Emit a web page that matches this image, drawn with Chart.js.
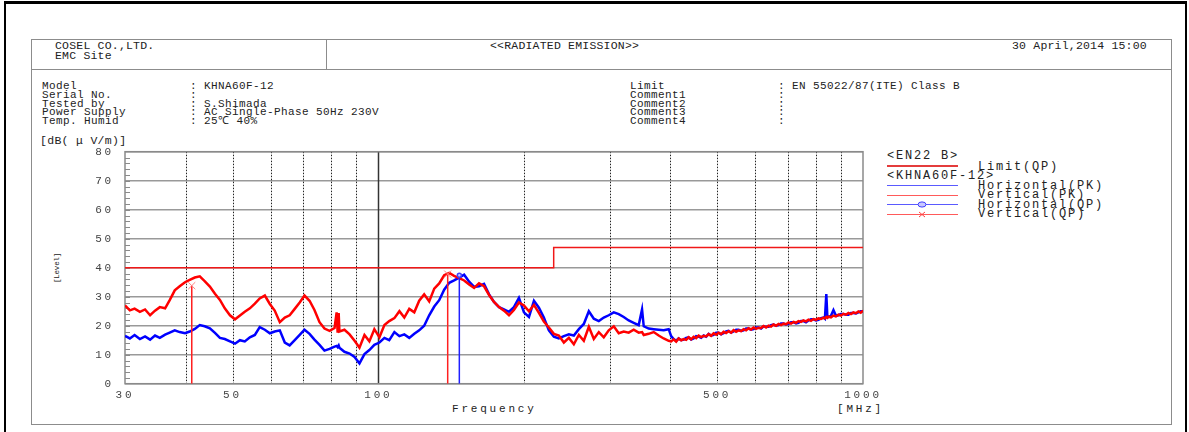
<!DOCTYPE html>
<html>
<head>
<meta charset="UTF-8">
<title>Radiated Emission</title>
<script src="https://cdn.jsdelivr.net/npm/chart.js"></script>
<style>
  body { margin: 0; background: #fff; }
  #page { position: relative; width: 1189px; height: 432px; overflow: hidden;
          font-family: "Liberation Mono", monospace; color: #222; }
  .t { position: absolute; white-space: pre; font-size: 11.5px; line-height: 12px; letter-spacing: 0.2px; }
  .blk { position: absolute; white-space: pre; font-size: 11px; line-height: 8.8px; letter-spacing: 0.4px; }
  .lg { position: absolute; white-space: pre; font-size: 12px; line-height: 12px; letter-spacing: 1.8px; }
  .ln { position: absolute; height: 0; }
  #outer { position: absolute; left: 4px; top: 1px; width: 1179px; height: 470px;
           border-top: 3px solid #000; border-left: 2px solid #000; border-right: 2px solid #000; }
  #inner { position: absolute; left: 31px; top: 39px; width: 1139px; height: 384px; border: 1.5px solid #8c8c8c; }
  #c { position: absolute; left: 0; top: 130px; }
</style>
</head>
<body>
<div id="page">
  <div id="outer"></div>
  <div id="inner"></div>
  <div class="ln" style="left:31px;top:69px;width:1141px;border-top:1.5px solid #8c8c8c"></div>
  <div style="position:absolute;left:326px;top:39px;width:0;height:31px;border-left:1.5px solid #8c8c8c"></div>

  <div class="t" style="left:55px;top:40px">COSEL CO.,LTD.</div>
  <div class="t" style="left:55px;top:50px">EMC Site</div>
  <div class="t" style="left:490px;top:40px">&lt;&lt;RADIATED EMISSION&gt;&gt;</div>
  <div class="t" style="left:1012px;top:40px">30 April,2014 15:00</div>

  <div class="blk" style="left:42px;top:82px">Model
Serial No.
Tested by
Power Supply
Temp. Humid</div>
  <div class="blk" style="left:190px;top:82px">: KHNA60F-12
:
: S.Shimada
: AC Single-Phase 50Hz 230V
: 25&#8451; 40%</div>
  <div class="blk" style="left:630px;top:82px">Limit
Comment1
Comment2
Comment3
Comment4</div>
  <div class="blk" style="left:778px;top:82px">: EN 55022/87(ITE) Class B
:
:
:
:</div>

  <div class="t" style="left:40px;top:135px;letter-spacing:0.3px">[dB( &#956; V/m)]</div>
  <div class="t" style="left:57px;top:268px;font-size:7.5px;line-height:8px;letter-spacing:-0.2px;transform:translate(-50%,-50%) rotate(-90deg)">[Level]</div>
  <div class="t" style="left:452px;top:403px;font-size:11px;letter-spacing:2.8px">Frequency</div>
  <div class="t" style="left:837px;top:403px;font-size:11px;letter-spacing:2.8px">[MHz]</div>

  <div class="lg" style="left:887px;top:150px">&lt;EN22 B&gt;</div>
  <div class="ln" style="left:887px;top:165px;width:71px;border-top:2.5px solid #e43c3c"></div>
  <div class="lg" style="left:978px;top:161px">Limit(QP)</div>
  <div class="lg" style="left:887px;top:170px">&lt;KHNA60F-12&gt;</div>
  <div class="ln" style="left:887px;top:185px;width:71px;border-top:1px solid #5a5aff"></div>
  <div class="lg" style="left:978px;top:180px">Horizontal(PK)</div>
  <div class="ln" style="left:887px;top:195px;width:71px;border-top:1px solid #ff5a5a"></div>
  <div class="lg" style="left:978px;top:189px">Vertical(PK)</div>
  <div class="ln" style="left:887px;top:204px;width:71px;border-top:1px solid #5a5aff"></div>
  <svg style="position:absolute;left:917px;top:201px" width="10" height="7"><ellipse cx="5" cy="3.5" rx="4" ry="2.6" fill="#c8c8ff" stroke="#4040ff" stroke-width="1"/></svg>
  <div class="lg" style="left:978px;top:199px">Horizontal(QP)</div>
  <div class="ln" style="left:887px;top:214px;width:71px;border-top:1px solid #ff5a5a"></div>
  <svg style="position:absolute;left:918px;top:211px" width="8" height="7"><path d="M1 1 L7 6 M7 1 L1 6" stroke="#ff4040" stroke-width="1"/></svg>
  <div class="lg" style="left:978px;top:208px">Vertical(QP)</div>

  <canvas id="c" width="900" height="290"></canvas>
</div>

<script>
// frequencies in MHz, levels in dB(uV/m)
const freqs = [
  30, 30.7, 31.4, 32.2, 33.0, 33.8, 34.6, 35.4, 36.3, 37.1,
  38.0, 38.9, 39.9, 40.8, 41.8, 42.8, 43.8, 44.9, 46.0, 47.1,
  48.2, 49.4, 50.6, 51.8, 53.0, 54.3, 55.6, 56.9, 58.3, 59.7,
  61.1, 62.6, 64.1, 65.6, 67.2, 68.8, 70.4, 72.1, 73.8, 75.6,
  77.4, 79.3, 81.2, 82.0, 82.4, 82.8, 83.1, 85.1, 87.2, 89.3,
  91.4, 93.6, 95.8, 98.1, 100.5, 102.9, 105.3, 107.9, 110.5, 113.1,
  115.8, 118.6, 121.4, 124.3, 127.3, 130.4, 133.5, 136.7, 140.0, 143.3,
  146.8, 150.3, 153.9, 157.6, 161.3, 165.2, 169.2, 173.2, 177.4, 181.6,
  186.0, 190.4, 195.0, 199.7, 204.5, 209.4, 214.4, 219.5, 224.8, 230.2,
  235.7, 241.4, 247.2, 253.1, 259.2, 265.4, 271.8, 278.3, 285.0, 291.8,
  298.8, 306.0, 313.3, 320.8, 328.5, 336.4, 344.5, 350.0, 352.8, 361.2,
  369.9, 378.8, 387.9,
  397.2, 401.9, 406.7, 411.6, 416.5, 421.5, 426.5, 431.6, 436.7, 441.9,
  447.2, 452.6, 458.0, 463.5, 469.0, 474.6, 480.2, 485.9, 491.7, 497.6,
  503.5, 509.5, 515.6, 521.8, 528.0, 534.3, 540.7, 547.2, 553.7, 560.3,
  567.0, 573.8, 580.6, 587.5, 594.5, 601.6, 608.8, 616.1, 623.4, 630.9,
  638.4, 646.0, 653.7, 661.5, 669.4, 677.4, 685.5, 693.7, 701.9, 710.3,
  718.8, 727.4, 736.0, 744.8, 753.7, 762.7, 771.8, 781.0, 790.3, 799.8,
  809.3, 819.0, 828.7, 834.4, 840.0, 844.3, 848.6, 858.8, 869.0, 879.4,
  889.8, 900.5, 911.2, 922.1, 933.1, 944.3, 955.5, 966.9, 978.4, 989.2,
  1000
];
const horPk = [
  16.5, 15.6, 16.8, 15.4, 16.3, 15.2, 16.6, 15.8, 16.9, 17.6,
  18.4, 17.8, 17.4, 18.0, 18.9, 20.2, 19.8, 19.1, 17.5, 15.8,
  15.4, 14.6, 13.8, 15.0, 14.6, 16.0, 16.8, 19.5, 18.6, 17.4,
  18.0, 18.4, 14.2, 13.2, 15.0, 16.8, 18.6, 17.2, 15.2, 13.4,
  11.4, 12.0, 12.8, 13.0, 12.6, 13.2, 12.4, 11.0, 10.4, 9.2,
  7.0, 10.2, 11.6, 13.4, 14.2, 15.8, 15.0, 17.8, 16.4, 17.0,
  15.8, 17.2, 18.4, 20.0, 23.6, 26.6, 28.8, 32.4, 34.8, 35.6,
  36.6, 37.6, 35.2, 33.4, 33.6, 34.4, 30.8, 28.2, 26.4, 25.6,
  24.8, 26.4, 29.6, 24.6, 23.0, 28.6, 26.2, 22.8, 18.4, 16.2,
  15.6, 16.4, 17.0, 16.6, 18.8, 20.6, 25.0, 22.4, 21.6, 22.8,
  23.6, 24.6, 24.0, 23.0, 21.8, 21.0, 20.2, 25.6, 19.8, 19.0,
  18.8, 18.6, 18.4,
  18.8, 16.4, 15.4, 14.8, 15.6, 15.0, 15.2, 15.8, 16.0, 15.2,
  15.6, 16.4, 16.2, 15.8, 16.6, 16.2, 17.2, 16.6, 16.8, 17.6,
  17.6, 17.0, 17.4, 18.0, 18.2, 17.6, 18.0, 18.6, 18.6, 18.2,
  18.4, 19.0, 19.0, 18.6, 18.8, 19.4, 19.4, 19.0, 19.8, 19.6,
  19.6, 20.2, 20.4, 20.0, 20.2, 20.8, 20.8, 20.4, 20.6, 21.2,
  21.2, 20.8, 21.0, 21.6, 21.6, 21.2, 21.8, 22.2, 22.2, 21.8,
  22.0, 22.6, 22.8, 22.4, 30.9, 23.0, 23.0, 23.4, 25.4, 23.4,
  23.6, 24.0, 24.0, 23.8, 23.8, 24.4, 24.4, 24.2, 24.6, 25.0,
  25.0
];
const verPk = [
  27.0, 25.3, 25.9, 24.8, 25.6, 23.6, 25.2, 26.4, 26.0, 28.8,
  32.2, 33.6, 35.0, 35.8, 36.6, 37.0, 35.4, 33.5, 31.0, 28.9,
  26.0, 23.6, 22.2, 23.5, 24.8, 26.0, 27.6, 29.4, 30.4, 27.5,
  25.2, 21.2, 22.8, 23.6, 25.8, 28.0, 30.4, 28.6, 25.4, 21.2,
  19.0, 18.2, 19.2, 24.6, 17.6, 24.4, 18.0, 18.6, 17.0, 14.8,
  12.4, 16.8, 14.6, 18.8, 16.0, 20.2, 21.6, 22.6, 25.0, 22.8,
  25.8, 24.6, 28.6, 30.8, 28.4, 32.8, 34.6, 37.4, 38.2, 37.2,
  36.4, 35.6, 34.2, 33.0, 34.6, 33.6, 30.6, 28.2, 26.4, 25.2,
  23.6, 25.4, 28.0, 27.0, 25.0, 27.2, 24.4, 21.4, 19.4, 17.2,
  16.6, 14.2, 15.8, 13.6, 16.8, 14.8, 19.6, 15.4, 17.8, 16.0,
  18.4, 19.8, 17.4, 18.0, 17.6, 18.6, 17.6, 17.8, 16.8, 17.2,
  17.8, 16.6, 15.6,
  14.8, 14.6, 15.3, 14.5, 15.6, 15.0, 15.4, 15.1, 16.0, 15.3,
  16.2, 15.7, 16.6, 16.1, 16.5, 16.3, 17.1, 16.5, 17.4, 16.9,
  17.6, 17.1, 17.9, 17.5, 18.1, 17.6, 18.5, 17.9, 18.4, 18.1,
  18.8, 18.4, 19.1, 18.7, 19.4, 18.9, 19.3, 19.2, 19.9, 19.4,
  20.0, 19.7, 20.4, 20.0, 20.6, 20.2, 20.7, 20.5, 21.1, 20.7,
  21.3, 21.0, 21.6, 21.3, 21.8, 21.5, 22.1, 21.7, 22.3, 22.0,
  22.5, 22.3, 22.8, 22.5, 23.0, 22.7, 23.1, 22.9, 23.5, 23.2,
  23.8, 23.5, 24.1, 23.8, 24.4, 24.0, 24.6, 24.3, 24.9, 24.5,
  25.2
];

// EN 55022 class B limit (QP)
const limitFreq = [30, 230, 230, 1000];
const limitLevel = [40, 40, 47, 47];

// quasi-peak readings
const verQpFreq = [41.2, 139.0];
const verQpLevel = [33.8, 37.8];
const horQpFreq = [146.9];
const horQpLevel = [37.4];

const xTicks = [30, 40, 50, 60, 70, 80, 90, 100, 200, 300, 400, 500, 600, 700, 800, 900, 1000];
const xLabelled = [30, 50, 100, 500, 1000];
const yTicks = [0, 10, 20, 30, 40, 50, 60, 70, 80];

const toPts = (xs, ys) => xs.map((f, i) => ({ x: f, y: ys[i] }));
function stems(xs, ys) {
  const pts = [];
  xs.forEach((f, i) => { pts.push({ x: f, y: 0 }, { x: f, y: ys[i] }, { x: f, y: null }); });
  return pts;
}

// dotted verticals, minor ticks, plot frame
const frame = {
  id: 'frame',
  beforeDatasetsDraw(chart) {
    const { ctx, chartArea: a, scales: { x, y } } = chart;
    ctx.save();
    xTicks.forEach(v => {
      if (v === 30 || v === 1000) return;
      const px = Math.round(x.getPixelForValue(v)) + 0.5;
      ctx.beginPath();
      if (v === 100) { ctx.setLineDash([]); ctx.strokeStyle = '#333'; ctx.lineWidth = 1.5; }
      else { ctx.setLineDash([1.5, 1.5]); ctx.strokeStyle = '#222'; ctx.lineWidth = 1; }
      ctx.moveTo(px, a.top); ctx.lineTo(px, a.bottom); ctx.stroke();
    });
    ctx.setLineDash([]);
    ctx.strokeStyle = '#8a8a8a'; ctx.lineWidth = 1;
    ctx.beginPath();
    for (let v = 2; v < 80; v += 2) {
      const py = Math.round(y.getPixelForValue(v)) + 0.5;
      ctx.moveTo(a.left, py); ctx.lineTo(a.left + 5, py);
    }
    ctx.stroke();
    ctx.lineWidth = 1.5;
    ctx.strokeRect(a.left, a.top, a.right - a.left, a.bottom - a.top);
    ctx.restore();
  }
};

// wide-spaced tick text like the printout
const wideText = {
  id: 'wideText',
  beforeDraw(chart) { chart.ctx.letterSpacing = '2.8px'; },
  afterDraw(chart) { chart.ctx.letterSpacing = '0px'; }
};

new Chart(document.getElementById('c'), {
  type: 'line',
  data: {
    datasets: [
      { label: 'Limit(QP)', data: toPts(limitFreq, limitLevel), borderColor: '#f01818', borderWidth: 1.5, pointRadius: 0 },
      { label: 'Vertical(QP)', data: stems(verQpFreq, verQpLevel), borderColor: '#ff2020', borderWidth: 1.5,
        pointStyle: 'crossRot', pointBorderColor: '#ff8080', pointBorderWidth: 1,
        pointRadius: c => (c.raw && c.raw.y > 0 ? 5 : 0), spanGaps: false },
      { label: 'Horizontal(QP)', data: stems(horQpFreq, horQpLevel), borderColor: '#2020ff', borderWidth: 1.5,
        pointStyle: 'circle', pointBackgroundColor: '#c8c8ff', pointBorderColor: '#4040ff',
        pointRadius: c => (c.raw && c.raw.y > 0 ? 2 : 0), spanGaps: false },
      { label: 'Vertical(PK)', data: toPts(freqs, verPk), borderColor: '#ff0000', borderWidth: 2.5, pointRadius: 0 },
      { label: 'Horizontal(PK)', data: toPts(freqs, horPk), borderColor: '#0000ff', borderWidth: 2.5, pointRadius: 0 }
    ]
  },
  options: {
    responsive: false,
    animation: false,
    layout: { padding: { top: 21.7, right: 37, left: 0, bottom: 0 } },
    plugins: { legend: { display: false }, tooltip: { enabled: false } },
    elements: { line: { tension: 0 } },
    scales: {
      x: {
        type: 'logarithmic', min: 30, max: 1000,
        afterBuildTicks: s => { s.ticks = xTicks.map(v => ({ value: v })); },
        afterFit: s => { s.height = 36.3; },
        grid: { display: false, drawTicks: false },
        border: { display: false },
        ticks: {
          autoSkip: false, maxRotation: 0, padding: 5, color: '#444',
          font: { family: 'Liberation Mono', size: 11 },
          callback: v => (xLabelled.includes(v) ? String(v) : '')
        }
      },
      y: {
        min: 0, max: 80,
        afterBuildTicks: s => { s.ticks = yTicks.map(v => ({ value: v })); },
        afterFit: s => { s.width = 125; },
        grid: { color: '#999', lineWidth: 1.5, drawTicks: false },
        border: { display: false },
        ticks: { padding: 11, color: '#444', font: { family: 'Liberation Mono', size: 11 } }
      }
    }
  },
  plugins: [frame, wideText]
});
</script>
</body>
</html>
